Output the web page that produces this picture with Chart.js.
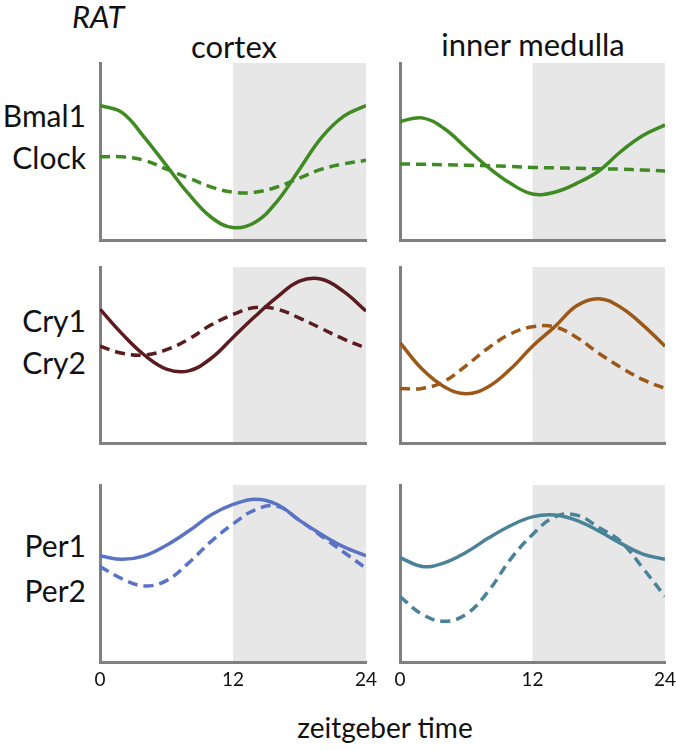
<!DOCTYPE html>
<html>
<head>
<meta charset="utf-8">
<script src="https://cdn.jsdelivr.net/npm/chart.js@4.4.1/dist/chart.umd.min.js"></script>
<style>
  html, body { margin: 0; padding: 0; background: #fff; }
  body { width: 676px; height: 750px; position: relative; overflow: hidden; font-family: Lato, "Open Sans", sans-serif; color: #111; }
  canvas { position: absolute; }
  .t { position: absolute; line-height: 1; white-space: nowrap; transform: translateY(-50%); }
  .r { text-align: right; }
  .c { transform: translate(-50%, -50%); }
</style>
</head>
<body>
<div class="t" style="left:72px; top:16px; font-size:31px; font-style:italic;">RAT</div>
<div class="t c" style="left:234px; top:46px; font-size:31px;">cortex</div>
<div class="t c" style="left:533px; top:44px; font-size:31px;">inner medulla</div>
<div class="t r" style="right:590px; top:115px; font-size:30px;">Bmal1</div>
<div class="t r" style="right:590px; top:157px; font-size:30px;">Clock</div>
<div class="t r" style="right:590px; top:320px; font-size:30px;">Cry1</div>
<div class="t r" style="right:590px; top:362px; font-size:30px;">Cry2</div>
<div class="t r" style="right:590px; top:545px; font-size:30px;">Per1</div>
<div class="t r" style="right:590px; top:590px; font-size:30px;">Per2</div>
<div class="t c" style="left:385px; top:727px; font-size:28px;">zeitgeber time</div>

<script>
// ---- data (relative expression, % of panel height) ----
const hours = [0, 2, 4, 6, 8, 10, 12, 14, 16, 18, 20, 22, 24];
const xTicks = [0, 12, 24];
const darkStart = 12;
const darkEnd = 24;

const bmal1Cortex = [76, 72, 58, 42, 26, 13, 7, 10, 22, 40, 58, 70, 76];
const clockCortex = [47, 47, 45, 40, 35, 30, 27, 27, 30, 35, 40, 43, 45];
const bmal1Medulla = [67, 69, 63, 52, 41, 32, 26, 27, 32, 39, 50, 59, 65];
const clockMedulla = [43, 42.8, 42.5, 42.2, 42, 41.5, 41, 40.8, 40.5, 40.2, 40, 39.5, 39];

const cry1Cortex = [76, 62, 50, 42, 41, 48, 60, 72, 83, 92, 93, 86, 75];
const cry2Cortex = [55, 51, 50, 53, 59, 67, 73, 77, 76, 71, 65, 59, 54];
const cry1Medulla = [57, 42, 32, 28, 32, 42, 55, 66, 78, 82, 77, 67, 55];
const cry2Medulla = [31, 31, 35, 44, 54, 62, 66, 66, 60, 51, 43, 36, 31];

const per1Cortex = [60, 58, 60, 66, 74, 83, 89, 92, 89, 80, 72, 65, 60];
const per2Cortex = [54, 47, 43, 46, 56, 68, 78, 86, 88, 80, 71, 62, 53];
const per1Medulla = [59, 54, 56, 62, 70, 77, 82, 83, 80, 74, 67, 61, 58];
const per2Medulla = [37, 27, 23, 27, 40, 58, 72, 82, 83, 76, 68, 53, 37];

// ---- styling ----
const GREEN = '#3f8a22';
const MAROON = '#5a1c1e';
const BROWN = '#9c5818';
const BLUE = '#5b73c6';
const TEAL = '#4a8398';
const AXIS = '#808080';
const SHADE = '#e7e7e7';

const shadePlugin = {
  id: 'shade',
  beforeDraw(chart) {
    const { ctx, chartArea, scales } = chart;
    const x0 = scales.x.getPixelForValue(darkStart);
    const x1 = scales.x.getPixelForValue(darkEnd);
    ctx.save();
    ctx.fillStyle = SHADE;
    ctx.fillRect(x0, chartArea.top, x1 - x0, chartArea.bottom - chartArea.top);
    ctx.restore();
  }
};

function pts(vals) { return hours.map((h, i) => ({ x: h, y: vals[i] })); }

function makePanel(area, solid, dashed, color, showTicks) {
  const W = 10, P = 12, H = showTicks ? 34 : 6;
  const cv = document.createElement('canvas');
  const w = W + (area.r - area.l) + P;
  const h = P + (area.b - area.t) + H;
  cv.width = w; cv.height = h;
  cv.style.left = (area.l - W) + 'px';
  cv.style.top = (area.t - P) + 'px';
  cv.style.width = w + 'px';
  cv.style.height = h + 'px';
  document.body.appendChild(cv);
  new Chart(cv, {
    type: 'line',
    data: {
      datasets: [
        { data: pts(dashed), borderColor: color, borderWidth: 3.5, borderDash: [10, 6], pointRadius: 0, tension: 0.4, fill: false },
        { data: pts(solid), borderColor: color, borderWidth: 3.5, pointRadius: 0, tension: 0.4, fill: false }
      ]
    },
    options: {
      responsive: false,
      animation: false,
      events: [],
      layout: { padding: { top: P, right: P, left: 0, bottom: 0 } },
      plugins: { legend: { display: false }, tooltip: { enabled: false } },
      scales: {
        x: {
          type: 'linear', min: 0, max: 24,
          afterFit: s => { s.height = H; s.paddingLeft = 0; s.paddingRight = 0; },
          afterBuildTicks: s => { s.ticks = xTicks.map(v => ({ value: v })); },
          grid: { display: false, drawTicks: false },
          border: { display: true, color: AXIS, width: 3 },
          ticks: { display: showTicks, color: '#111', padding: 6, maxRotation: 0, font: { family: 'Lato', size: 19 } }
        },
        y: {
          min: 0, max: 100,
          afterFit: s => { s.width = W; },
          grid: { display: false, drawTicks: false },
          border: { display: true, color: AXIS, width: 3 },
          ticks: { display: false }
        }
      }
    },
    plugins: [shadePlugin]
  });
}

const cols = [{ l: 100, r: 366 }, { l: 400, r: 665 }];
const rows = [{ t: 63, b: 240 }, { t: 267, b: 443 }, { t: 485, b: 662 }];
function area(ri, ci) { return { l: cols[ci].l, r: cols[ci].r, t: rows[ri].t, b: rows[ri].b }; }

makePanel(area(0, 0), bmal1Cortex, clockCortex, GREEN, false);
makePanel(area(0, 1), bmal1Medulla, clockMedulla, GREEN, false);
makePanel(area(1, 0), cry1Cortex, cry2Cortex, MAROON, false);
makePanel(area(1, 1), cry1Medulla, cry2Medulla, BROWN, false);
makePanel(area(2, 0), per1Cortex, per2Cortex, BLUE, true);
makePanel(area(2, 1), per1Medulla, per2Medulla, TEAL, true);
</script>
</body>
</html>
